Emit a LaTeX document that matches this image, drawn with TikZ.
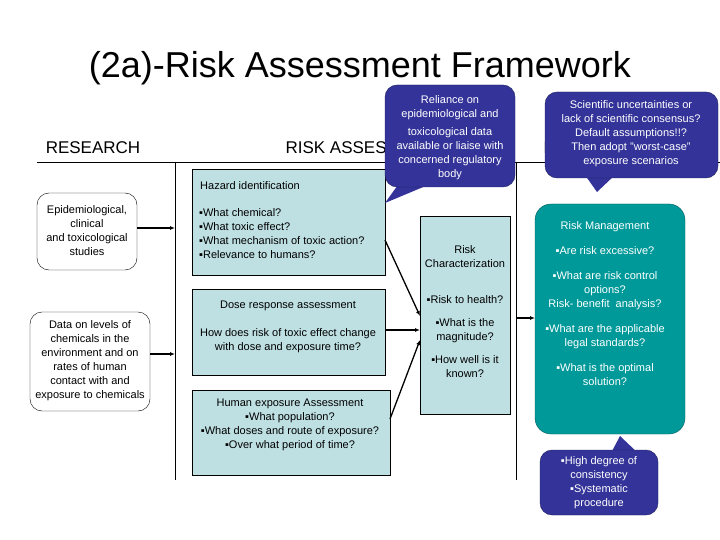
\documentclass[tikz,border=0pt]{standalone}
\usepackage{fontspec}
\setmainfont{Liberation Sans}
\usetikzlibrary{arrows.meta}
\definecolor{lb}{HTML}{BFE0E3}
\definecolor{teal2}{HTML}{009999}
\definecolor{navy}{HTML}{333399}
\begin{document}
\begin{tikzpicture}[x=1pt,y=-1pt,
  txt/.style={font=\fontsize{11}{14}\selectfont,align=center,inner sep=0pt},
  wtxt/.style={txt,text=white},
  rbox/.style={draw,rounded corners=12pt,fill=white},
  lbbox/.style={draw,fill=lb},
  mgmt/.style={draw=teal2!60!black,fill=teal2,rounded corners=16pt},
  call/.style={fill=navy,draw=navy!60!black,rounded corners=12pt},
  arr/.style={-{Latex[length=5pt,width=4pt]},line width=1.3pt}]
\useasboundingbox (0,0) rectangle (720,540);
\node[font=\fontsize{36}{40}\selectfont] (title) at (360,68) {(2a)-Risk Assessment Framework};
\node[font=\fontsize{17}{20}\selectfont] (h1) at (93,148) {RESEARCH};
\node[font=\fontsize{17}{20}\selectfont,anchor=west] (h2) at (282,148) {RISK ASSESSMENT};
\node[font=\fontsize{17}{20}\selectfont,anchor=west] (h3) at (540,148) {RISK MANAGEMENT};
\draw (37,162) -- (720,162);
\draw (175,162) -- (175,480);
\draw (516,162) -- (516,480);
% research
\draw[rbox] (37,193) rectangle (137,270);
\node[txt] (r1) at (87,231) {Epidemiological,\\clinical\\and toxicological\\studies};
\draw[rbox] (30,312) rectangle (150,411);
\node[txt] (r2) at (90,361) {Data on levels of\\chemicals in the\\environment and on\\rates of human\\contact with and\\exposure to chemicals};
\coordinate (v1) at (175,228); \coordinate (v2) at (175,354);
\coordinate (r1e) at (137,228); \coordinate (r2e) at (150,354);
\draw[arr] (r1e) -- (v1);
\draw[arr] (r2e) -- (v2);
% assessment boxes
\draw[lbbox] (192,169) rectangle (385,275);
\node[txt,anchor=west] (hz) at (200,186) {Hazard identification};
\node[txt,anchor=north west,align=left] (hzb) at (199,208) {▪What chemical?\\▪What toxic effect?\\▪What mechanism of toxic action?\\▪Relevance to humans?};
\draw[lbbox] (192,289) rectangle (385,375);
\node[txt] (ds) at (288,306) {Dose response assessment};
\node[txt] (dsb) at (288,341) {How does risk of toxic effect change\\with dose and exposure time?};
\draw[lbbox] (192,390) rectangle (390,475);
\node[txt] (hu) at (290,425) {Human exposure Assessment\\▪What population?\\▪What doses and route of exposure?\\▪Over what period of time?};
\draw[lbbox] (420,216) rectangle (510,414);
\node[txt] (rc) at (465,257) {Risk\\Characterization};
\node[txt] (rcb) at (465,337) {▪Risk to health?\\[9pt]▪What is the\\magnitude?\\[9pt]▪How well is it\\known?};
\coordinate (rcl1) at (420,316); \coordinate (rcl2) at (420,330); \coordinate (rcl3) at (420,340);
\coordinate (hze) at (385,240); \coordinate (dse) at (385,330); \coordinate (hue) at (390,419);
\draw[arr] (hze) -- (rcl1);
\draw[arr] (dse) -- (rcl2);
\draw[arr] (hue) -- (rcl3);
% management
\draw[mgmt] (535,204) rectangle (685,434);
\node[wtxt] (rm) at (605,304) {Risk Management\\[11pt]▪Are risk excessive?\\[11pt]▪What are risk control\\options?\\Risk- benefit\ \ analysis?\\[11pt]▪What are the applicable\\legal standards?\\[11pt]▪What is the optimal\\solution?};
\coordinate (v3) at (516,318); \coordinate (rml) at (535,318);
\draw[arr] (v3) -- (rml);
% callouts
\fill[navy] (405,175) -- (385,203) -- (440,180) -- cycle;
\draw[call] (385,85) rectangle (515,187);
\node[wtxt] (c1) at (450,138) {Reliance on\\epidemiological and\\[4pt]toxicological data\\available or liaise with\\concerned regulatory\\body};
\fill[navy] (585,175) -- (597,192) -- (615,175) -- cycle;
\draw[call] (545,92) rectangle (718,178);
\node[wtxt] (c2) at (631,134) {Scientific uncertainties or\\lack of scientific consensus?\\Default assumptions!!?\\Then adopt "worst-case"\\exposure scenarios};
\fill[navy] (610,455) -- (620,436) -- (640,455) -- cycle;
\draw[call] (540,450) rectangle (658,515);
\node[wtxt] (c3) at (599,483) {▪High degree of\\consistency\\▪Systematic\\procedure};
\end{tikzpicture}
\end{document}
